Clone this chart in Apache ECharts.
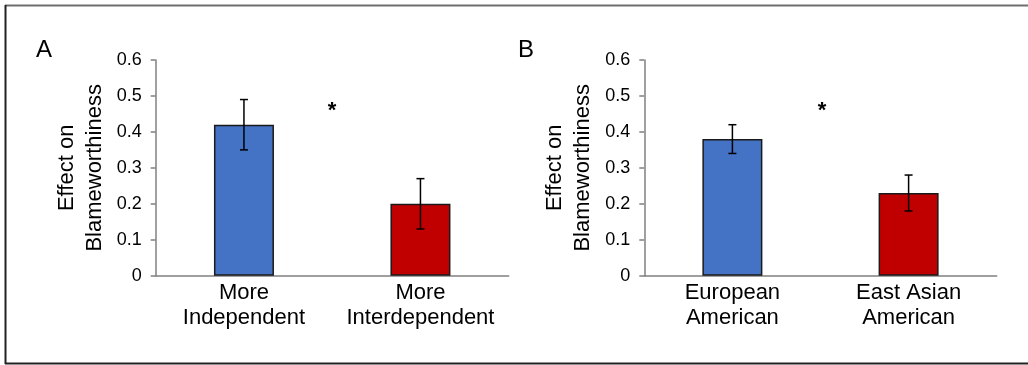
<!DOCTYPE html>
<html>
<head>
<meta charset="utf-8">
<script src="https://cdn.jsdelivr.net/npm/echarts@6/dist/echarts.min.js"></script>
<style>
html,body{margin:0;padding:0;background:#fff;}
#c{width:1028px;height:365px;}
</style>
</head>
<body>
<div id="c"></div>
<script>
var categoriesA = ['More\nIndependent', 'More\nInterdependent'];
var valuesA = [0.42, 0.20];
var errorsA = [0.07, 0.07];
var categoriesB = ['European\nAmerican', 'East Asian\nAmerican'];
var valuesB = [0.38, 0.23];
var errorsB = [0.04, 0.05];
var yTicks = [0, 0.1, 0.2, 0.3, 0.4, 0.5, 0.6];
var yTitle = 'Effect on\nBlameworthiness';
var barColors = ['#4472C4', '#C00000'];

var FONT = 'Liberation Sans, Arial, sans-serif';

function errData(vals, errs) {
  return vals.map(function (v, i) { return [i, v - errs[i], v + errs[i]]; });
}

function renderErr(params, api) {
  var x = api.value(0);
  var lo = api.coord([x, api.value(1)]);
  var hi = api.coord([x, api.value(2)]);
  var cap = 7;
  var st = { stroke: '#000', lineWidth: 1.5 };
  return {
    type: 'group',
    children: [
      { type: 'line', shape: { x1: hi[0], y1: hi[1], x2: lo[0], y2: lo[1] }, style: st },
      { type: 'line', shape: { x1: hi[0] - cap / 2 - 0.5, y1: hi[1], x2: hi[0] + cap / 2 + 0.5, y2: hi[1] }, style: st },
      { type: 'line', shape: { x1: lo[0] - cap / 2 - 0.5, y1: lo[1], x2: lo[0] + cap / 2 + 0.5, y2: lo[1] }, style: st }
    ]
  };
}

function yAxisDef(idx) {
  return {
    type: 'value', gridIndex: idx, min: yTicks[0], max: yTicks[yTicks.length - 1], interval: 0.1,
    name: yTitle, nameLocation: 'middle', nameGap: 47, nameRotate: 90,
    nameTextStyle: { fontFamily: FONT, fontSize: 22, color: '#000', lineHeight: 28 },
    axisLine: { show: true, lineStyle: { color: '#808080', width: 1.5 } },
    axisTick: { show: true, length: 5, lineStyle: { color: '#808080', width: 1.5 } },
    axisLabel: { fontFamily: FONT, fontSize: 18, color: '#000', margin: 14,
      formatter: function (v) { return v === 0 ? '0' : v.toFixed(1); } },
    splitLine: { show: false }
  };
}

function xAxisDef(idx, cats) {
  return {
    type: 'category', gridIndex: idx, data: cats,
    axisLine: { show: true, lineStyle: { color: '#808080', width: 1.5 } },
    axisTick: { show: false },
    axisLabel: { fontFamily: FONT, fontSize: 22, color: '#000', lineHeight: 25, margin: 5, interval: 0 }
  };
}

function barSeries(idx, vals) {
  return {
    type: 'bar', xAxisIndex: idx, yAxisIndex: idx, barWidth: 60,
    data: vals.map(function (v, i) {
      return { value: v, itemStyle: { color: barColors[i] } };
    }),
    itemStyle: { borderColor: '#1a1a1a', borderWidth: 1.5 },
    z: 2
  };
}

function errSeries(idx, vals, errs) {
  return {
    type: 'custom', xAxisIndex: idx, yAxisIndex: idx,
    renderItem: renderErr, data: errData(vals, errs), z: 5,
    encode: { x: 0, y: [1, 2] }
  };
}

var chart = echarts.init(document.getElementById('c'), null, { renderer: 'canvas' });
chart.setOption({
  animation: false,
  backgroundColor: '#fff',
  grid: [
    { left: 155.7, top: 60, width: 353, height: 215.7 },
    { left: 644.3, top: 60, width: 352.4, height: 215.7 }
  ],
  xAxis: [xAxisDef(0, categoriesA), xAxisDef(1, categoriesB)],
  yAxis: [yAxisDef(0), yAxisDef(1)],
  series: [
    barSeries(0, valuesA), errSeries(0, valuesA, errorsA),
    barSeries(1, valuesB), errSeries(1, valuesB, errorsB)
  ],
  graphic: [
    { type: 'line', shape: { x1: 5, y1: 5.5, x2: 1028, y2: 5.5 }, style: { stroke: '#6e6e6e', lineWidth: 2 } },
    { type: 'line', shape: { x1: 5.5, y1: 5, x2: 5.5, y2: 364 }, style: { stroke: '#222', lineWidth: 2 } },
    { type: 'line', shape: { x1: 5, y1: 363.5, x2: 1028, y2: 363.5 }, style: { stroke: '#222', lineWidth: 2 } },
    { type: 'text', left: 36, top: 38, style: { text: 'A', font: '24px ' + FONT, fill: '#000' } },
    { type: 'text', left: 518, top: 38, style: { text: 'B', font: '24px ' + FONT, fill: '#000' } },
    { type: 'text', x: 332, y: 100, style: { text: '*', font: 'bold 22px ' + FONT, fill: '#000', align: 'center', verticalAlign: 'top' } },
    { type: 'text', x: 822, y: 100, style: { text: '*', font: 'bold 22px ' + FONT, fill: '#000', align: 'center', verticalAlign: 'top' } }
  ]
});
</script>
</body>
</html>
